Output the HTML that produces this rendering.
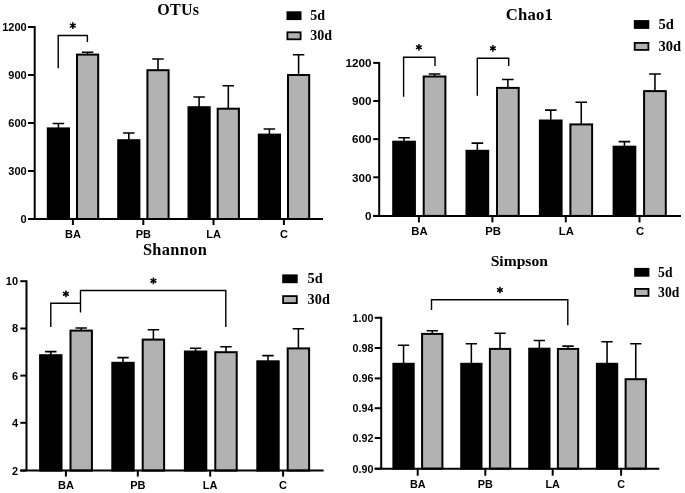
<!DOCTYPE html>
<html><head><meta charset="utf-8"><title>Alpha diversity</title>
<style>
html,body{margin:0;padding:0;background:#fff;}
body{width:685px;height:493px;overflow:hidden;font-family:"Liberation Sans",sans-serif;}
svg{display:block;}
</style></head>
<body>
<svg width="685" height="493" viewBox="0 0 685 493">
<defs><filter id="soft" x="0" y="0" width="685" height="493" filterUnits="userSpaceOnUse"><feGaussianBlur stdDeviation="0.5"/></filter></defs>
<rect width="685" height="493" fill="#fff"/>
<g filter="url(#soft)">
<rect width="685" height="493" fill="#fff"/>
<path d="M58.40 128.80V123.50M52.65 123.50H64.15" stroke="#000" stroke-width="1.55" fill="none"/>
<path d="M87.60 55.00V52.30M81.85 52.30H93.35" stroke="#000" stroke-width="1.55" fill="none"/>
<rect x="47.80" y="128.40" width="21.20" height="90.60" fill="#000" stroke="#000" stroke-width="2.0"/>
<rect x="77.00" y="54.60" width="21.20" height="164.40" fill="#b2b2b2" stroke="#000" stroke-width="2.0"/>
<path d="M128.80 140.60V133.00M123.05 133.00H134.55" stroke="#000" stroke-width="1.55" fill="none"/>
<path d="M158.00 70.60V59.00M152.25 59.00H163.75" stroke="#000" stroke-width="1.55" fill="none"/>
<rect x="118.20" y="140.20" width="21.20" height="78.80" fill="#000" stroke="#000" stroke-width="2.0"/>
<rect x="147.40" y="70.20" width="21.20" height="148.80" fill="#b2b2b2" stroke="#000" stroke-width="2.0"/>
<path d="M199.10 107.60V97.00M193.35 97.00H204.85" stroke="#000" stroke-width="1.55" fill="none"/>
<path d="M228.30 109.10V85.70M222.55 85.70H234.05" stroke="#000" stroke-width="1.55" fill="none"/>
<rect x="188.50" y="107.20" width="21.20" height="111.80" fill="#000" stroke="#000" stroke-width="2.0"/>
<rect x="217.70" y="108.70" width="21.20" height="110.30" fill="#b2b2b2" stroke="#000" stroke-width="2.0"/>
<path d="M269.40 135.00V129.00M263.65 129.00H275.15" stroke="#000" stroke-width="1.55" fill="none"/>
<path d="M298.60 75.40V54.80M292.85 54.80H304.35" stroke="#000" stroke-width="1.55" fill="none"/>
<rect x="258.80" y="134.60" width="21.20" height="84.40" fill="#000" stroke="#000" stroke-width="2.0"/>
<rect x="288.00" y="75.00" width="21.20" height="144.00" fill="#b2b2b2" stroke="#000" stroke-width="2.0"/>
<path d="M34.70 26.00V220.00M28.00 219.00H323.00" stroke="#000" stroke-width="2.0" fill="none"/>
<path d="M28.00 27.00H34.70" stroke="#000" stroke-width="2.0"/>
<text x="26.70" y="30.96" font-family="Liberation Sans, sans-serif" font-weight="bold" font-size="11" text-anchor="end">1200</text>
<path d="M28.00 75.00H34.70" stroke="#000" stroke-width="2.0"/>
<text x="26.70" y="78.96" font-family="Liberation Sans, sans-serif" font-weight="bold" font-size="11" text-anchor="end">900</text>
<path d="M28.00 123.00H34.70" stroke="#000" stroke-width="2.0"/>
<text x="26.70" y="126.96" font-family="Liberation Sans, sans-serif" font-weight="bold" font-size="11" text-anchor="end">600</text>
<path d="M28.00 171.00H34.70" stroke="#000" stroke-width="2.0"/>
<text x="26.70" y="174.96" font-family="Liberation Sans, sans-serif" font-weight="bold" font-size="11" text-anchor="end">300</text>
<path d="M28.00 219.00H34.70" stroke="#000" stroke-width="2.0"/>
<text x="26.70" y="222.96" font-family="Liberation Sans, sans-serif" font-weight="bold" font-size="11" text-anchor="end">0</text>
<path d="M72.90 219.00V225.00" stroke="#000" stroke-width="2.0"/>
<text x="72.90" y="237.60" font-family="Liberation Sans, sans-serif" font-weight="bold" font-size="11" text-anchor="middle">BA</text>
<path d="M143.30 219.00V225.00" stroke="#000" stroke-width="2.0"/>
<text x="143.30" y="237.60" font-family="Liberation Sans, sans-serif" font-weight="bold" font-size="11" text-anchor="middle">PB</text>
<path d="M213.50 219.00V225.00" stroke="#000" stroke-width="2.0"/>
<text x="213.50" y="237.60" font-family="Liberation Sans, sans-serif" font-weight="bold" font-size="11" text-anchor="middle">LA</text>
<path d="M283.90 219.00V225.00" stroke="#000" stroke-width="2.0"/>
<text x="283.90" y="237.60" font-family="Liberation Sans, sans-serif" font-weight="bold" font-size="11" text-anchor="middle">C</text>
<path d="M58.2 68.2V35.5H87.4V42" stroke="#000" stroke-width="1.4" fill="none"/>
<path d="M72.80 22.25L72.80 28.95M69.90 23.93L75.70 27.28M75.70 23.93L69.90 27.28" stroke="#000" stroke-width="1.5" fill="none"/>
<text x="157.2" y="14.6" font-family="Liberation Serif, serif" font-weight="bold" font-size="16" letter-spacing="0.3">OTUs</text>
<rect x="286.5" y="11.3" width="15" height="8.8" fill="#000"/>
<rect x="287.4" y="32.3" width="13.2" height="7.000000000000001" fill="#b2b2b2" stroke="#000" stroke-width="1.8"/>
<text x="310.3" y="20.1" font-family="Liberation Serif, serif" font-weight="bold" font-size="14" letter-spacing="0">5d</text>
<text x="310.3" y="40.2" font-family="Liberation Serif, serif" font-weight="bold" font-size="14" letter-spacing="0">30d</text>
<path d="M404.05 142.10V137.80M398.25 137.80H409.85" stroke="#000" stroke-width="1.55" fill="none"/>
<path d="M434.55 76.90V73.90M428.75 73.90H440.35" stroke="#000" stroke-width="1.55" fill="none"/>
<rect x="393.20" y="141.70" width="21.70" height="74.20" fill="#000" stroke="#000" stroke-width="2.0"/>
<rect x="423.70" y="76.50" width="21.70" height="139.40" fill="#b2b2b2" stroke="#000" stroke-width="2.0"/>
<path d="M477.35 151.20V143.10M471.55 143.10H483.15" stroke="#000" stroke-width="1.55" fill="none"/>
<path d="M507.85 88.30V79.50M502.05 79.50H513.65" stroke="#000" stroke-width="1.55" fill="none"/>
<rect x="466.50" y="150.80" width="21.70" height="65.10" fill="#000" stroke="#000" stroke-width="2.0"/>
<rect x="497.00" y="87.90" width="21.70" height="128.00" fill="#b2b2b2" stroke="#000" stroke-width="2.0"/>
<path d="M550.75 120.90V110.10M544.95 110.10H556.55" stroke="#000" stroke-width="1.55" fill="none"/>
<path d="M581.25 124.80V102.30M575.45 102.30H587.05" stroke="#000" stroke-width="1.55" fill="none"/>
<rect x="539.90" y="120.50" width="21.70" height="95.40" fill="#000" stroke="#000" stroke-width="2.0"/>
<rect x="570.40" y="124.40" width="21.70" height="91.50" fill="#b2b2b2" stroke="#000" stroke-width="2.0"/>
<path d="M624.45 147.10V141.60M618.65 141.60H630.25" stroke="#000" stroke-width="1.55" fill="none"/>
<path d="M654.95 91.50V73.90M649.15 73.90H660.75" stroke="#000" stroke-width="1.55" fill="none"/>
<rect x="613.60" y="146.70" width="21.70" height="69.20" fill="#000" stroke="#000" stroke-width="2.0"/>
<rect x="644.10" y="91.10" width="21.70" height="124.80" fill="#b2b2b2" stroke="#000" stroke-width="2.0"/>
<path d="M379.20 61.90V216.90M373.20 215.90H681.00" stroke="#000" stroke-width="2.0" fill="none"/>
<path d="M373.20 62.90H379.20" stroke="#000" stroke-width="2.0"/>
<text x="371.60" y="67.11" font-family="Liberation Sans, sans-serif" font-weight="bold" font-size="11.7" text-anchor="end">1200</text>
<path d="M373.20 101.00H379.20" stroke="#000" stroke-width="2.0"/>
<text x="371.60" y="105.21" font-family="Liberation Sans, sans-serif" font-weight="bold" font-size="11.7" text-anchor="end">900</text>
<path d="M373.20 139.10H379.20" stroke="#000" stroke-width="2.0"/>
<text x="371.60" y="143.31" font-family="Liberation Sans, sans-serif" font-weight="bold" font-size="11.7" text-anchor="end">600</text>
<path d="M373.20 177.30H379.20" stroke="#000" stroke-width="2.0"/>
<text x="371.60" y="181.51" font-family="Liberation Sans, sans-serif" font-weight="bold" font-size="11.7" text-anchor="end">300</text>
<path d="M373.20 215.90H379.20" stroke="#000" stroke-width="2.0"/>
<text x="371.60" y="220.11" font-family="Liberation Sans, sans-serif" font-weight="bold" font-size="11.7" text-anchor="end">0</text>
<path d="M418.90 215.90V222.40" stroke="#000" stroke-width="2.0"/>
<text x="419.50" y="234.50" font-family="Liberation Sans, sans-serif" font-weight="bold" font-size="11.3" text-anchor="middle">BA</text>
<path d="M492.40 215.90V222.40" stroke="#000" stroke-width="2.0"/>
<text x="493.00" y="234.50" font-family="Liberation Sans, sans-serif" font-weight="bold" font-size="11.3" text-anchor="middle">PB</text>
<path d="M565.80 215.90V222.40" stroke="#000" stroke-width="2.0"/>
<text x="566.40" y="234.50" font-family="Liberation Sans, sans-serif" font-weight="bold" font-size="11.3" text-anchor="middle">LA</text>
<path d="M639.50 215.90V222.40" stroke="#000" stroke-width="2.0"/>
<text x="640.10" y="234.50" font-family="Liberation Sans, sans-serif" font-weight="bold" font-size="11.3" text-anchor="middle">C</text>
<path d="M403.6 96.8V57.3H435V66" stroke="#000" stroke-width="1.4" fill="none"/>
<path d="M477.3 95.8V58.3H508.7V66" stroke="#000" stroke-width="1.4" fill="none"/>
<path d="M418.90 43.95L418.90 50.65M416.00 45.62L421.80 48.97M421.80 45.62L416.00 48.97" stroke="#000" stroke-width="1.5" fill="none"/>
<path d="M492.90 44.95L492.90 51.65M490.00 46.62L495.80 49.97M495.80 46.62L490.00 49.97" stroke="#000" stroke-width="1.5" fill="none"/>
<text x="505.8" y="19.8" font-family="Liberation Serif, serif" font-weight="bold" font-size="16.7" letter-spacing="0.2">Chao1</text>
<rect x="633.8" y="20.1" width="15.5" height="8.8" fill="#000"/>
<rect x="634.6999999999999" y="42.9" width="13.7" height="7.000000000000001" fill="#b2b2b2" stroke="#000" stroke-width="1.8"/>
<text x="658.6" y="28.900000000000002" font-family="Liberation Serif, serif" font-weight="bold" font-size="14.5" letter-spacing="0">5d</text>
<text x="658.6" y="50.8" font-family="Liberation Serif, serif" font-weight="bold" font-size="14.5" letter-spacing="0">30d</text>
<path d="M50.80 355.60V351.60M45.10 351.60H56.50" stroke="#000" stroke-width="1.55" fill="none"/>
<path d="M81.20 331.00V328.00M75.50 328.00H86.90" stroke="#000" stroke-width="1.55" fill="none"/>
<rect x="40.10" y="355.20" width="21.40" height="115.40" fill="#000" stroke="#000" stroke-width="2.0"/>
<rect x="70.50" y="330.60" width="21.40" height="140.00" fill="#b2b2b2" stroke="#000" stroke-width="2.0"/>
<path d="M123.00 363.20V357.60M117.30 357.60H128.70" stroke="#000" stroke-width="1.55" fill="none"/>
<path d="M153.40 340.00V329.70M147.70 329.70H159.10" stroke="#000" stroke-width="1.55" fill="none"/>
<rect x="112.30" y="362.80" width="21.40" height="107.80" fill="#000" stroke="#000" stroke-width="2.0"/>
<rect x="142.70" y="339.60" width="21.40" height="131.00" fill="#b2b2b2" stroke="#000" stroke-width="2.0"/>
<path d="M195.60 351.90V348.30M189.90 348.30H201.30" stroke="#000" stroke-width="1.55" fill="none"/>
<path d="M226.00 352.60V346.80M220.30 346.80H231.70" stroke="#000" stroke-width="1.55" fill="none"/>
<rect x="184.90" y="351.50" width="21.40" height="119.10" fill="#000" stroke="#000" stroke-width="2.0"/>
<rect x="215.30" y="352.20" width="21.40" height="118.40" fill="#b2b2b2" stroke="#000" stroke-width="2.0"/>
<path d="M268.00 361.70V355.60M262.30 355.60H273.70" stroke="#000" stroke-width="1.55" fill="none"/>
<path d="M298.40 348.80V328.70M292.70 328.70H304.10" stroke="#000" stroke-width="1.55" fill="none"/>
<rect x="257.30" y="361.30" width="21.40" height="109.30" fill="#000" stroke="#000" stroke-width="2.0"/>
<rect x="287.70" y="348.40" width="21.40" height="122.20" fill="#b2b2b2" stroke="#000" stroke-width="2.0"/>
<path d="M26.50 280.20V471.60M20.30 470.60H323.60" stroke="#000" stroke-width="2.0" fill="none"/>
<path d="M20.30 281.20H26.50" stroke="#000" stroke-width="2.0"/>
<text x="18.10" y="285.16" font-family="Liberation Sans, sans-serif" font-weight="bold" font-size="11" text-anchor="end">10</text>
<path d="M20.30 328.50H26.50" stroke="#000" stroke-width="2.0"/>
<text x="18.10" y="332.46" font-family="Liberation Sans, sans-serif" font-weight="bold" font-size="11" text-anchor="end">8</text>
<path d="M20.30 375.60H26.50" stroke="#000" stroke-width="2.0"/>
<text x="18.10" y="379.56" font-family="Liberation Sans, sans-serif" font-weight="bold" font-size="11" text-anchor="end">6</text>
<path d="M20.30 422.80H26.50" stroke="#000" stroke-width="2.0"/>
<text x="18.10" y="426.76" font-family="Liberation Sans, sans-serif" font-weight="bold" font-size="11" text-anchor="end">4</text>
<path d="M20.30 470.60H26.50" stroke="#000" stroke-width="2.0"/>
<text x="18.10" y="474.56" font-family="Liberation Sans, sans-serif" font-weight="bold" font-size="11" text-anchor="end">2</text>
<path d="M65.90 470.60V476.60" stroke="#000" stroke-width="2.0"/>
<text x="65.90" y="489.00" font-family="Liberation Sans, sans-serif" font-weight="bold" font-size="11" text-anchor="middle">BA</text>
<path d="M137.80 470.60V476.60" stroke="#000" stroke-width="2.0"/>
<text x="137.80" y="489.00" font-family="Liberation Sans, sans-serif" font-weight="bold" font-size="11" text-anchor="middle">PB</text>
<path d="M210.20 470.60V476.60" stroke="#000" stroke-width="2.0"/>
<text x="210.20" y="489.00" font-family="Liberation Sans, sans-serif" font-weight="bold" font-size="11" text-anchor="middle">LA</text>
<path d="M283.10 470.60V476.60" stroke="#000" stroke-width="2.0"/>
<text x="283.10" y="489.00" font-family="Liberation Sans, sans-serif" font-weight="bold" font-size="11" text-anchor="middle">C</text>
<path d="M50.8 327V303.3H80.5" stroke="#000" stroke-width="1.4" fill="none"/>
<path d="M80.5 312.6V290.5H225.8V327" stroke="#000" stroke-width="1.4" fill="none"/>
<path d="M65.90 290.45L65.90 297.15M63.00 292.12L68.80 295.48M68.80 292.12L63.00 295.48" stroke="#000" stroke-width="1.5" fill="none"/>
<path d="M153.40 277.45L153.40 284.15M150.50 279.12L156.30 282.48M156.30 279.12L150.50 282.48" stroke="#000" stroke-width="1.5" fill="none"/>
<text x="142.9" y="255.0" font-family="Liberation Serif, serif" font-weight="bold" font-size="16.4" letter-spacing="0.35">Shannon</text>
<rect x="282.2" y="274.4" width="15.5" height="8.8" fill="#000"/>
<rect x="283.09999999999997" y="296.09999999999997" width="13.7" height="7.000000000000001" fill="#b2b2b2" stroke="#000" stroke-width="1.8"/>
<text x="307.6" y="283.2" font-family="Liberation Serif, serif" font-weight="bold" font-size="14.3" letter-spacing="0">5d</text>
<text x="307.6" y="304.0" font-family="Liberation Serif, serif" font-weight="bold" font-size="14.3" letter-spacing="0">30d</text>
<path d="M403.55 364.20V345.30M397.90 345.30H409.20" stroke="#000" stroke-width="1.55" fill="none"/>
<path d="M432.25 334.30V330.70M426.60 330.70H437.90" stroke="#000" stroke-width="1.55" fill="none"/>
<rect x="393.40" y="363.80" width="20.30" height="104.90" fill="#000" stroke="#000" stroke-width="2.0"/>
<rect x="422.10" y="333.90" width="20.30" height="134.80" fill="#b2b2b2" stroke="#000" stroke-width="2.0"/>
<path d="M471.35 364.20V343.80M465.70 343.80H477.00" stroke="#000" stroke-width="1.55" fill="none"/>
<path d="M500.05 349.30V333.30M494.40 333.30H505.70" stroke="#000" stroke-width="1.55" fill="none"/>
<rect x="461.20" y="363.80" width="20.30" height="104.90" fill="#000" stroke="#000" stroke-width="2.0"/>
<rect x="489.90" y="348.90" width="20.30" height="119.80" fill="#b2b2b2" stroke="#000" stroke-width="2.0"/>
<path d="M539.35 349.10V340.50M533.70 340.50H545.00" stroke="#000" stroke-width="1.55" fill="none"/>
<path d="M568.05 349.30V346.10M562.40 346.10H573.70" stroke="#000" stroke-width="1.55" fill="none"/>
<rect x="529.20" y="348.70" width="20.30" height="120.00" fill="#000" stroke="#000" stroke-width="2.0"/>
<rect x="557.90" y="348.90" width="20.30" height="119.80" fill="#b2b2b2" stroke="#000" stroke-width="2.0"/>
<path d="M607.05 364.20V341.80M601.40 341.80H612.70" stroke="#000" stroke-width="1.55" fill="none"/>
<path d="M635.75 379.60V343.80M630.10 343.80H641.40" stroke="#000" stroke-width="1.55" fill="none"/>
<rect x="596.90" y="363.80" width="20.30" height="104.90" fill="#000" stroke="#000" stroke-width="2.0"/>
<rect x="625.60" y="379.20" width="20.30" height="89.50" fill="#b2b2b2" stroke="#000" stroke-width="2.0"/>
<path d="M381.20 316.80V469.70M374.70 468.70H659.30" stroke="#000" stroke-width="2.0" fill="none"/>
<path d="M374.70 317.80H381.20" stroke="#000" stroke-width="2.0"/>
<text x="373.40" y="321.65" font-family="Liberation Sans, sans-serif" font-weight="bold" font-size="10.7" text-anchor="end">1.00</text>
<path d="M374.70 348.00H381.20" stroke="#000" stroke-width="2.0"/>
<text x="373.40" y="351.85" font-family="Liberation Sans, sans-serif" font-weight="bold" font-size="10.7" text-anchor="end">0.98</text>
<path d="M374.70 378.40H381.20" stroke="#000" stroke-width="2.0"/>
<text x="373.40" y="382.25" font-family="Liberation Sans, sans-serif" font-weight="bold" font-size="10.7" text-anchor="end">0.96</text>
<path d="M374.70 408.20H381.20" stroke="#000" stroke-width="2.0"/>
<text x="373.40" y="412.05" font-family="Liberation Sans, sans-serif" font-weight="bold" font-size="10.7" text-anchor="end">0.94</text>
<path d="M374.70 438.00H381.20" stroke="#000" stroke-width="2.0"/>
<text x="373.40" y="441.85" font-family="Liberation Sans, sans-serif" font-weight="bold" font-size="10.7" text-anchor="end">0.92</text>
<path d="M374.70 468.70H381.20" stroke="#000" stroke-width="2.0"/>
<text x="373.40" y="472.55" font-family="Liberation Sans, sans-serif" font-weight="bold" font-size="10.7" text-anchor="end">0.90</text>
<path d="M417.70 468.70V475.70" stroke="#000" stroke-width="2.0"/>
<text x="417.70" y="487.70" font-family="Liberation Sans, sans-serif" font-weight="bold" font-size="10.8" text-anchor="middle">BA</text>
<path d="M485.30 468.70V475.70" stroke="#000" stroke-width="2.0"/>
<text x="485.30" y="487.70" font-family="Liberation Sans, sans-serif" font-weight="bold" font-size="10.8" text-anchor="middle">PB</text>
<path d="M552.70 468.70V475.70" stroke="#000" stroke-width="2.0"/>
<text x="552.70" y="487.70" font-family="Liberation Sans, sans-serif" font-weight="bold" font-size="10.8" text-anchor="middle">LA</text>
<path d="M621.10 468.70V475.70" stroke="#000" stroke-width="2.0"/>
<text x="621.10" y="487.70" font-family="Liberation Sans, sans-serif" font-weight="bold" font-size="10.8" text-anchor="middle">C</text>
<path d="M431.5 309.9V299.8H567.8V325.3" stroke="#000" stroke-width="1.4" fill="none"/>
<path d="M499.90 286.65L499.90 293.35M497.00 288.32L502.80 291.68M502.80 288.32L497.00 291.68" stroke="#000" stroke-width="1.5" fill="none"/>
<text x="490.7" y="266.3" font-family="Liberation Serif, serif" font-weight="bold" font-size="15.6" letter-spacing="0">Simpson</text>
<rect x="634.2" y="267.9" width="15.2" height="8.8" fill="#000"/>
<rect x="635.1" y="288.9" width="13.399999999999999" height="7.000000000000001" fill="#b2b2b2" stroke="#000" stroke-width="1.8"/>
<text x="658.1" y="276.7" font-family="Liberation Serif, serif" font-weight="bold" font-size="13.6" letter-spacing="0">5d</text>
<text x="658.1" y="296.8" font-family="Liberation Serif, serif" font-weight="bold" font-size="13.6" letter-spacing="0">30d</text>
</g>
</svg>
</body></html>
